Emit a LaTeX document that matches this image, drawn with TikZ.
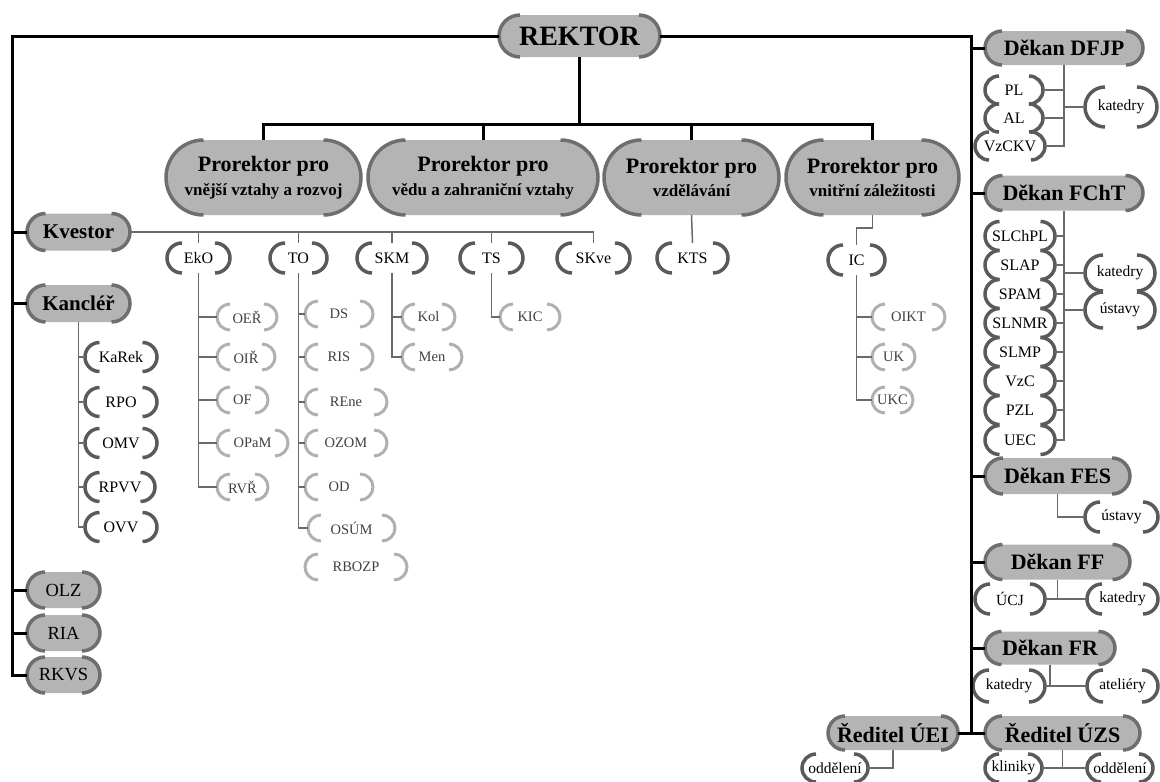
\documentclass[tikz,border=0pt]{standalone}
\usepackage{fontspec}
\setmainfont{Liberation Serif}
\usetikzlibrary{calc}
\definecolor{pillfill}{HTML}{B4B4B4}
\definecolor{pillend}{HTML}{6E6E6E}
\definecolor{brdark}{HTML}{5A5A5A}
\definecolor{brlight}{HTML}{B0B0B0}
\definecolor{subline}{HTML}{6A6A6A}
\definecolor{txtlight}{HTML}{404040}
\tikzset{
  main/.style={line width=3pt, black},
  subl/.style={line width=1.5pt, subline},
  pillE/.style={line width=3.5pt, pillend},
  brD/.style={line width=3.5pt, brdark},
  brL/.style={line width=3pt, brlight},
  pillN/.style={fill=pillfill},
  fRek/.style={font=\fontsize{28}{30}\selectfont\bfseries},
  fPro/.style={fill=pillfill, align=center, font=\bfseries},
  fDek/.style={fill=pillfill, font=\fontsize{22}{24}\selectfont\bfseries},
  fKv/.style={fill=pillfill, font=\fontsize{21}{23}\selectfont\bfseries},
  fOLZ/.style={fill=pillfill, font=\fontsize{18.5}{20}\selectfont},
  fL2/.style={font=\fontsize{16}{18}\selectfont, text=black},
  fL3/.style={font=\fontsize{14.5}{16}\selectfont, text=txtlight},
  fR/.style={font=\fontsize{16}{18}\selectfont, text=black},
  fK/.style={font=\fontsize{15.5}{17}\selectfont, text=black},
}
% name, x, y, w, h, node style, end style, text
\newcommand\onode[8]{%
  \pgfmathsetmacro\rr{#5/2}%
  \node[inner sep=0pt, outer sep=0pt, minimum width=#4pt, minimum height=#5pt, rounded corners=\rr pt, #6] (#1) at (#2,#3) {#8};
  \draw[#7] ([xshift=\rr pt]#1.north west) arc[start angle=90, end angle=270, radius=\rr pt];
  \draw[#7] ([xshift=-\rr pt]#1.south east) arc[start angle=-90, end angle=90, radius=\rr pt];
}
\newcommand\protext[1]{\fontsize{22}{22}\selectfont Prorektor pro\\[6pt]\fontsize{17}{22}\selectfont #1}
\begin{document}
\begin{tikzpicture}[x=1pt, y=-1pt]
\path[use as bounding box] (0,0) rectangle (1160,782);
% top level
\onode{rek}{579.5}{36}{161}{42}{fill=pillfill, fRek}{pillE}{REKTOR}
\onode{p1}{263.5}{177.5}{195}{75}{fPro}{pillE}{\protext{vnější vztahy a rozvoj}}
\onode{p2}{483}{177.5}{230}{75}{fPro}{pillE}{\protext{vědu a zahraniční vztahy}}
\onode{p3}{691.5}{177.5}{175}{75}{fPro}{pillE}{\protext{vzdělávání}}
\onode{p4}{872.5}{177.5}{173}{75}{fPro}{pillE}{\protext{vnitřní záležitosti}}
% left column
\onode{kvestor}{78.5}{232}{103}{37}{fKv}{pillE}{Kvestor}
\onode{kanc}{78.5}{303.5}{103}{37}{fKv}{pillE}{Kancléř}
\onode{olz}{63.5}{590}{73}{36}{fOLZ}{pillE}{OLZ}
\onode{ria}{63.5}{633}{73}{36}{fOLZ}{pillE}{RIA}
\onode{rkvs}{63.5}{675}{73}{36}{fOLZ}{pillE}{RKVS}
% kancler children
\onode{karek}{121}{357}{72}{29}{fL2}{brD}{KaRek}
\onode{rpo}{121}{402}{72}{29}{fL2}{brD}{RPO}
\onode{omv}{121}{443}{72}{29}{fL2}{brD}{OMV}
\onode{rpvv}{120}{487}{70}{29}{fL2}{brD}{RPVV}
\onode{ovv}{121}{527}{72}{29}{fL2}{brD}{OVV}
% level 2
\onode{eko}{198.5}{258}{63}{30}{fL2}{brD}{EkO}
\onode{tov}{298.5}{258}{57}{30}{fL2}{brD}{TO}
\onode{skm}{392}{258}{70}{30}{fL2}{brD}{SKM}
\onode{ts}{491.5}{258}{63}{30}{fL2}{brD}{TS}
\onode{skve}{593.5}{258}{73}{30}{fL2}{brD}{SKve}
\onode{kts}{692.5}{258}{71}{30}{fL2}{brD}{KTS}
\onode{ic}{856.5}{260}{57}{30}{fL2}{brD}{IC}
% level 3 EkO
\onode{oer}{247}{317}{60}{26}{fL3}{brL}{OEŘ}
\onode{oir}{246}{357}{58}{26}{fL3}{brL}{OIŘ}
\onode{ofn}{242.5}{400}{51}{26}{fL3}{brL}{OF}
\onode{opam}{252.5}{443}{71}{26}{fL3}{brL}{OPaM}
\onode{rvr}{242.5}{487}{51}{26}{fL3}{brL}{RVŘ}
% level 3 TO
\onode{ds}{339}{314}{68}{26}{fL3}{brL}{DS}
\onode{ris}{339}{357}{68}{26}{fL3}{brL}{RIS}
\onode{rene}{346}{402}{82}{26}{fL3}{brL}{REne}
\onode{ozom}{346}{443}{82}{26}{fL3}{brL}{OZOM}
\onode{od}{339}{487}{68}{26}{fL3}{brL}{OD}
\onode{osum}{351.5}{528}{87}{26}{fL3}{brL}{OSÚM}
\onode{rbozp}{356}{567}{102}{26}{fL3}{brL}{RBOZP}
% level 3 SKM, TS, IC
\onode{kol}{428.5}{317}{53}{26}{fL3}{brL}{Kol}
\onode{men}{432}{357}{60}{26}{fL3}{brL}{Men}
\onode{kic}{530}{317}{60}{26}{fL3}{brL}{KIC}
\onode{oikt}{908.5}{317}{73}{26}{fL3}{brL}{OIKT}
\onode{uk}{893.5}{357}{43}{26}{fL3}{brL}{UK}
\onode{ukc}{892.5}{400}{41}{26}{fL3}{brL}{UKC}
% right column
\onode{dfjp}{1064}{48}{158}{34}{fDek}{pillE}{Děkan DFJP}
\onode{pl}{1014}{90}{58}{28}{fR}{brD}{PL}
\onode{al}{1014}{118}{58}{28}{fR}{brD}{AL}
\onode{vzckv}{1010}{146}{70}{28}{fR}{brD}{VzCKV}
\onode{katdf}{1121}{107}{72}{40}{fK}{brD}{katedry}
\onode{fcht}{1064}{193}{158}{35}{fDek}{pillE}{Děkan FChT}
\onode{slchpl}{1020}{236}{70}{29}{fR}{brD}{SLChPL}
\onode{slap}{1020}{265}{70}{29}{fR}{brD}{SLAP}
\onode{spam}{1020}{294}{70}{29}{fR}{brD}{SPAM}
\onode{slnmr}{1020}{323}{70}{29}{fR}{brD}{SLNMR}
\onode{slmp}{1020}{352}{70}{29}{fR}{brD}{SLMP}
\onode{vzc}{1020}{381}{70}{29}{fR}{brD}{VzC}
\onode{pzl}{1020}{410}{70}{29}{fR}{brD}{PZL}
\onode{uec}{1020}{440}{70}{29}{fR}{brD}{UEC}
\onode{katfc}{1120}{273}{70}{36}{fK}{brD}{katedry}
\onode{ustfc}{1120}{310}{70}{36}{fK}{brD}{ústavy}
\onode{fes}{1057.5}{476}{145}{36}{fDek}{pillE}{Děkan FES}
\onode{ustfes}{1121.5}{517}{73}{30}{fK}{brD}{ústavy}
\onode{ff}{1057.5}{562}{145}{35}{fDek}{pillE}{Děkan FF}
\onode{ucj}{1010}{599}{70}{30}{fK}{brD}{ÚCJ}
\onode{katff}{1122.5}{599}{71}{30}{fK}{brD}{katedry}
\onode{fr}{1050}{648}{130}{33}{fDek}{pillE}{Děkan FR}
\onode{katfr}{1009}{686}{72}{32}{fK}{brD}{katedry}
\onode{atel}{1122.5}{686}{71}{32}{fK}{brD}{ateliéry}
\onode{uzs}{1062.5}{733}{155}{34}{fDek}{pillE}{Ředitel ÚZS}
\onode{klin}{1013.5}{768}{57}{28}{fK}{brD}{kliniky}
\onode{oddz}{1120}{768}{66}{28}{fK}{brD}{oddělení}
\onode{uei}{893}{733}{130}{34}{fDek}{pillE}{Ředitel ÚEI}
\onode{oddu}{835}{768}{66}{28}{fK}{brD}{oddělení}
% main bus
\coordinate (lb) at (12,36);
\coordinate (rb) at (971,36);
\draw[main] (rek.west) -- (lb) |- (rkvs.west);
\draw[main] (rek.east) -- (rb) |- (uzs.west);
\foreach \n in {kvestor,kanc,olz,ria} \draw[main] (\n.west) -- (\n.west -| lb);
\foreach \n in {dfjp,fcht,fes,ff,fr} \draw[main] (\n.west) -- (\n.west -| rb);
\draw[main] (uei.east) -- (uei.east -| rb);
\foreach \n in {p1,p2,p3,p4} \draw[main] (rek.south) -- ++(0,67) -| (\n.north);
% kvestor line
\draw[subl] (kvestor.east) -- (kvestor.east -| skve.north);
\foreach \n in {eko,tov,skm,ts,skve} \draw[subl] (\n.north |- kvestor.east) -- (\n.north);
\draw[subl] (p3.south) -- (kts.north);
\draw[subl] (p4.south) -- ++(0,13) -| (ic.north);
% level 3 links
\draw[subl] (eko.south) |- (rvr.west);
\foreach \n in {oer,oir,ofn,opam} \draw[subl] (\n.west) -- (\n.west -| eko.south);
\draw[subl] (tov.south) |- (osum.west);
\foreach \n in {ds,ris,rene,ozom,od} \draw[subl] (\n.west) -- (\n.west -| tov.south);
\draw[subl] (skm.south) |- (men.west);
\draw[subl] (kol.west) -- (kol.west -| skm.south);
\draw[subl] (ts.south) |- (kic.west);
\draw[subl] (ic.south) |- (ukc.west);
\foreach \n in {oikt,uk} \draw[subl] (\n.west) -- (\n.west -| ic.south);
\draw[subl] (kanc.south) |- (ovv.west);
\foreach \n in {karek,rpo,omv,rpvv} \draw[subl] (\n.west) -- (\n.west -| kanc.south);
% right links
\draw[subl] (dfjp.south) |- (vzckv.east);
\foreach \n in {pl,al} \draw[subl] (\n.east) -- (\n.east -| dfjp.south);
\draw[subl] (katdf.west) -- (katdf.west -| dfjp.south);
\draw[subl] (fcht.south) |- (uec.east);
\foreach \n in {slchpl,slap,spam,slnmr,slmp,vzc,pzl} \draw[subl] (\n.east) -- (\n.east -| fcht.south);
\foreach \n in {katfc,ustfc} \draw[subl] (\n.west) -- (\n.west -| fcht.south);
\draw[subl] (fes.south) |- (ustfes.west);
\draw[subl] (ff.south) -- (ff.south |- ucj.east);
\draw[subl] (ucj.east) -- (katff.west);
\draw[subl] (fr.south) -- (fr.south |- katfr.east);
\draw[subl] (katfr.east) -- (atel.west);
\draw[subl] (uzs.south) -- (uzs.south |- klin.east);
\draw[subl] (klin.east) -- (oddz.west);
\draw[subl] (uei.south) |- (oddu.east);
\end{tikzpicture}
\end{document}
